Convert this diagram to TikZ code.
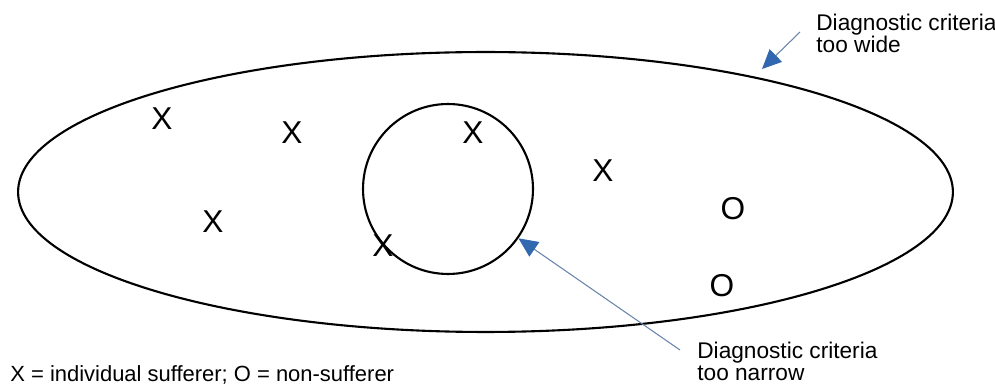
\documentclass[tikz,border=0pt]{standalone}
\usepackage{fontspec}
\setmainfont{Liberation Sans}
\usepackage{tikz}
\usetikzlibrary{
  arrows.meta,
  positioning,
  shapes.geometric
}
\definecolor{ptrline}{RGB}{105,132,170}
\definecolor{ptrhead}{RGB}{50,104,176}
\tikzset{
  casemark/.style={inner sep=0pt, font=\fontsize{18}{18}\selectfont},
  note/.style={inner sep=0pt, align=left, font=\fontsize{12.9}{12.6}\selectfont},
  outline/.style={draw, line width=1.2pt, inner sep=0pt},
  ptr/.style={-{Triangle[length=11pt, width=10pt, color=ptrhead]},
    draw=ptrline, line width=0.6pt},
}

\begin{document}
\begin{tikzpicture}[x=0.02cm, y=-0.02cm]
  \useasboundingbox (0,0) rectangle (995,388);

  % Criteria sets
  \node[outline, ellipse, minimum width=18.7cm, minimum height=5.6cm]
    (wide) at (485.5,192) {};
  \node[outline, circle, minimum size=3.4cm] (narrow) at (448,189) {};

  % Sufferers
  \node[casemark] (x1) at (162,119) {X};
  \node[casemark] (x2) at (292,133) {X};
  \node[casemark] (x3) at (473,133) {X};
  \node[casemark] (x4) at (603,171) {X};
  \node[casemark] (x5) at (213,222) {X};
  \node[casemark] (x6) at (383,246) {X};

  % Non-sufferers
  \node[casemark] (o1) at (733,209) {O};
  \node[casemark] (o2) at (722,286) {O};

  % Labels
  \node[note, anchor=north west] (widelbl) at (816,14)
    {Diagnostic criteria\\too wide};
  \node[note, anchor=north west] (narrowlbl) at (697,342)
    {Diagnostic criteria\\too narrow};
  \node[note, anchor=north west, font=\fontsize{12.5}{13}\selectfont]
    (legend) at (10,365) {X = individual sufferer; O = non-sufferer};

  % Pointers
  \coordinate (widetail) at (800,32);
  \coordinate (widetip) at (762,69);
  \coordinate (narrowtail) at (680,350);
  \draw[ptr] (widetail) -- (widetip);
  \draw[ptr] (narrowtail) -- (narrow.-35);
\end{tikzpicture}
\end{document}
